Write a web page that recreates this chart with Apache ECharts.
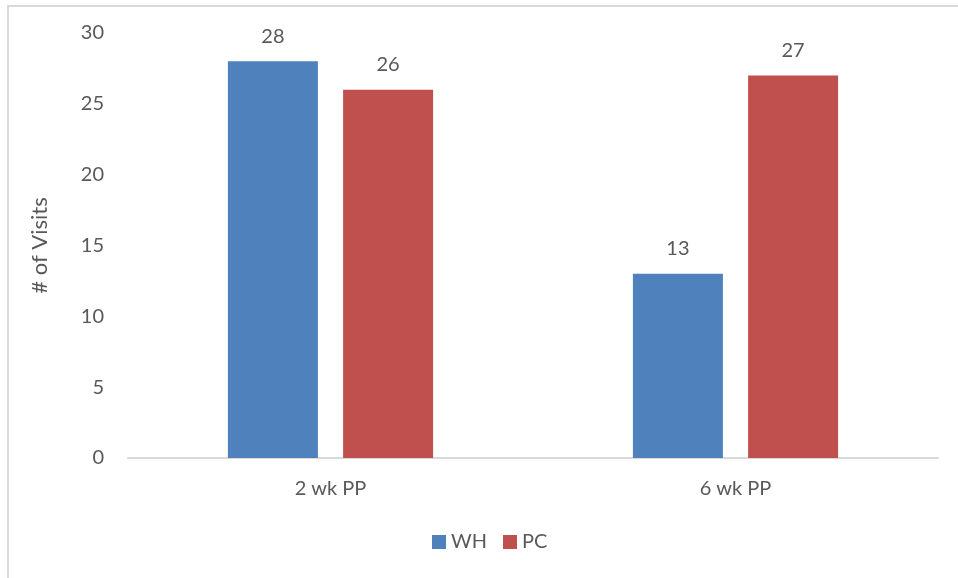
<!DOCTYPE html>
<html><head><meta charset="utf-8">
<script src="https://cdn.jsdelivr.net/npm/echarts@6/dist/echarts.min.js"></script>
<style>
html,body{margin:0;padding:0;background:#fff;}
#frame{position:absolute;left:7px;top:5px;width:1000px;height:1000px;border-left:2px solid #d9d9d9;border-top:2px solid #d9d9d9;box-sizing:border-box;}
#c{position:absolute;left:0;top:0;width:958px;height:578px;}
</style></head>
<body>
<div id="frame"></div>
<div id="c"></div>
<script>
var categories = ['2 wk PP', '6 wk PP'];
var whValues = [28, 13];
var pcValues = [26, 27];
var yTicks = [0, 5, 10, 15, 20, 25, 30];

var font = 'Lato, "Open Sans", sans-serif';
var txt = '#595959';
var fs = 20;
var chart = echarts.init(document.getElementById('c'), null, {renderer: 'canvas'});
chart.setOption({
  animation: false,
  textStyle: {fontFamily: font},
  grid: {left: 128, right: 20, top: 33, bottom: 120, containLabel: false},
  legend: {
    top: 527, left: 427,
    itemWidth: 14, itemHeight: 14, itemGap: 16,
    icon: 'rect',
    textStyle: {color: txt, fontSize: fs, fontFamily: font},
    data: ['WH', 'PC']
  },
  xAxis: {
    type: 'category', data: categories,
    axisLine: {lineStyle: {color: '#d9d9d9', width: 2}},
    axisTick: {show: false},
    axisLabel: {color: txt, fontSize: fs, margin: 21, fontFamily: font}
  },
  yAxis: {
    type: 'value', min: yTicks[0], max: yTicks[yTicks.length - 1], interval: 5,
    name: '# of Visits', nameLocation: 'middle', nameGap: 77, nameRotate: 90,
    nameTextStyle: {color: txt, fontSize: 22, fontFamily: font},
    axisLine: {show: false}, axisTick: {show: false},
    splitLine: {show: false},
    axisLabel: {color: txt, fontSize: fs, margin: 24, fontFamily: font}
  },
  series: [
    {name: 'WH', type: 'bar', data: whValues, barWidth: 90, barGap: '28%',
     itemStyle: {color: '#4f81bd'},
     label: {show: true, position: 'top', distance: 15, color: txt, fontSize: fs, fontFamily: font}},
    {name: 'PC', type: 'bar', data: pcValues, barWidth: 90,
     itemStyle: {color: '#c0504d'},
     label: {show: true, position: 'top', distance: 15, color: txt, fontSize: fs, fontFamily: font}}
  ]
});
</script>
</body></html>
